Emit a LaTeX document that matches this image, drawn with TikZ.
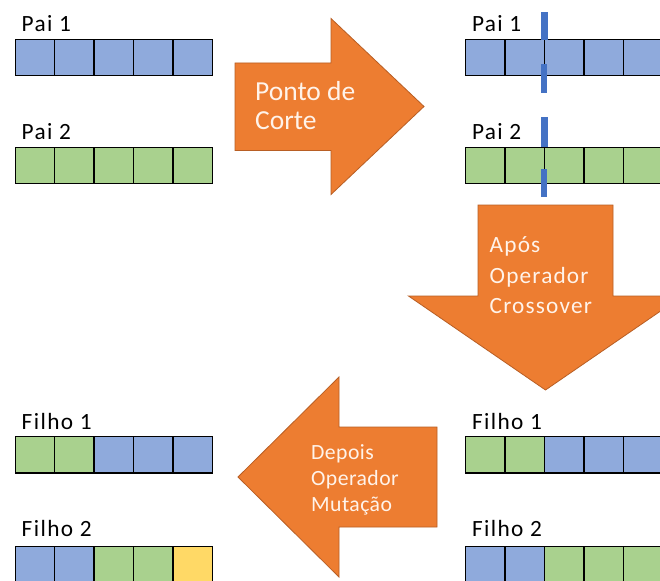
\documentclass[tikz,border=0pt]{standalone}
\usepackage{fontspec}
\setmainfont{Carlito}
\newfontfamily\lblfont[LetterSpace=6]{Carlito}
\newfontfamily\arrfont[LetterSpace=5]{Carlito}
\newfontfamily\arrfontb[LetterSpace=2]{Carlito}
\definecolor{cblue}{HTML}{8FAADC}
\definecolor{cgreen}{HTML}{A9D18E}
\definecolor{cyellow}{HTML}{FFD966}
\definecolor{cutblue}{HTML}{4472C4}
\definecolor{aorange}{HTML}{ED7D31}
\definecolor{aedge}{HTML}{B85E24}
\definecolor{atext}{HTML}{FFF3EA}
\begin{document}
\begin{tikzpicture}[x=1pt,y=-1pt,
  cell/.style={draw=black, line width=1.3pt},
  cutbar/.style={fill=cutblue},
  bigarrow/.style={fill=aorange, draw=aedge, line width=0.8pt, line join=miter},
  lbl/.style={anchor=base west, inner sep=0pt, text=black, font=\lblfont\fontsize{23.3}{28}\selectfont},
  txtA/.style={anchor=base west, inner sep=0pt, text=atext, font=\fontsize{27.5}{30}\selectfont},
  txtB/.style={anchor=base west, inner sep=0pt, text=atext, font=\arrfont\fontsize{23.3}{28}\selectfont},
  txtC/.style={anchor=base west, inner sep=0pt, text=atext, font=\arrfontb\fontsize{21.7}{26}\selectfont}]
\clip (0,0) rectangle (660,580);
\fill[white] (0,0) rectangle (660,580);

% chromosomes
\foreach \c [count=\i from 0] in {cblue,cblue,cblue,cblue,cblue}
  \filldraw[cell, fill=\c] ({15.3+39.4*\i},39.3) rectangle ++(39.4,36.4);
\foreach \c [count=\i from 0] in {cgreen,cgreen,cgreen,cgreen,cgreen}
  \filldraw[cell, fill=\c] ({15.3+39.4*\i},147.3) rectangle ++(39.4,36.4);
\foreach \c [count=\i from 0] in {cblue,cblue,cblue,cblue,cblue}
  \filldraw[cell, fill=\c] ({465.7+39.4*\i},39.3) rectangle ++(39.4,36.4);
\foreach \c [count=\i from 0] in {cgreen,cgreen,cgreen,cgreen,cgreen}
  \filldraw[cell, fill=\c] ({465.7+39.4*\i},147.3) rectangle ++(39.4,36.4);
\foreach \c [count=\i from 0] in {cgreen,cgreen,cblue,cblue,cblue}
  \filldraw[cell, fill=\c] ({15.3+39.4*\i},436.7) rectangle ++(39.4,36.4);
\foreach \c [count=\i from 0] in {cblue,cblue,cgreen,cgreen,cyellow}
  \filldraw[cell, fill=\c] ({15.3+39.4*\i},546.3) rectangle ++(39.4,36.4);
\foreach \c [count=\i from 0] in {cgreen,cgreen,cblue,cblue,cblue}
  \filldraw[cell, fill=\c] ({465.7+39.4*\i},436.7) rectangle ++(39.4,36.4);
\foreach \c [count=\i from 0] in {cblue,cblue,cgreen,cgreen,cgreen}
  \filldraw[cell, fill=\c] ({465.7+39.4*\i},546.3) rectangle ++(39.4,36.4);

% cut markers
\fill[cutbar] (540.9,11.7) rectangle (547.6,39.6);
\fill[cutbar] (540.6,64) rectangle (547.3,93);
\fill[cutbar] (540.9,116.7) rectangle (547.6,147.3);
\fill[cutbar] (540.6,169) rectangle (547.3,197);

% labels
\node[lbl] (p1l) at (21.5,32) {Pai 1};
\node[lbl] (p2l) at (21.5,140) {Pai 2};
\node[lbl] (p1r) at (471.8,32) {Pai 1};
\node[lbl] (p2r) at (471.8,140) {Pai 2};
\node[lbl] (f1l) at (21.5,429.5) {Filho 1};
\node[lbl] (f2l) at (21.5,536.5) {Filho 2};
\node[lbl] (f1r) at (471.8,429.5) {Filho 1};
\node[lbl] (f2r) at (471.8,536.5) {Filho 2};

% arrows
\filldraw[bigarrow] (235,63) -- (331,63) -- (331,18.5) -- (424,106.5)
  -- (331,194.5) -- (331,150.5) -- (235,150.5) -- cycle;
\filldraw[bigarrow] (478,205) -- (613,205) -- (613,296) -- (682.5,296)
  -- (545.5,390) -- (408.5,296) -- (478,296) -- cycle;
\filldraw[bigarrow] (437,427) -- (339,427) -- (339,377) -- (238,477)
  -- (339,577) -- (339,527) -- (437,527) -- cycle;

% arrow texts
\node[txtA] (a1a) at (255,100.5) {Ponto de};
\node[txtA] (a1b) at (255,129.5) {Corte};
\node[txtB] (a2a) at (489.5,252) {Após};
\node[txtB] (a2b) at (489.5,283) {Operador};
\node[txtB] (a2c) at (489.5,313.5) {Crossover};
\node[txtC] (a3a) at (311,459.5) {Depois};
\node[txtC] (a3b) at (311,485.5) {Operador};
\node[txtC] (a3c) at (311,511.5) {Mutação};
\end{tikzpicture}
\end{document}
